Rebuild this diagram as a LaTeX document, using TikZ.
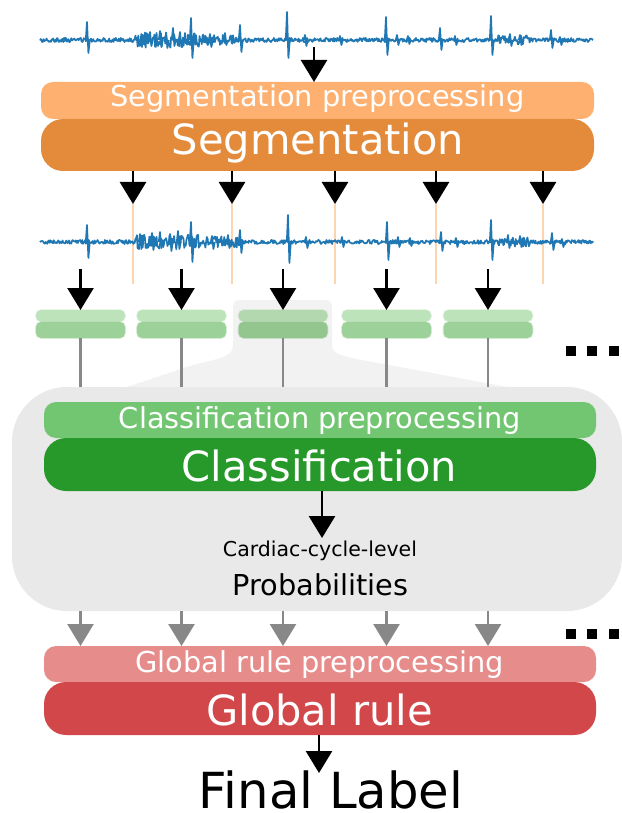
\documentclass[tikz,border=0pt]{standalone}
\usepackage{fontspec}
\setmainfont{DejaVu Sans}
\usetikzlibrary{arrows.meta}
\definecolor{segpreC}{HTML}{FDB06F}
\definecolor{segmainC}{HTML}{E48A3B}
\definecolor{clpreC}{HTML}{72C672}
\definecolor{clmainC}{HTML}{26992A}
\definecolor{glpreC}{HTML}{E68D8C}
\definecolor{glmainC}{HTML}{D1474A}
\definecolor{bigGray}{HTML}{E9E9E9}
\definecolor{funGray}{HTML}{F2F2F2}
\definecolor{arrGray}{HTML}{888888}
\definecolor{orLight}{HTML}{FDD4B0}
\definecolor{sigBlue}{HTML}{1F77B4}
\definecolor{gTop}{HTML}{BDE3BB}
\definecolor{gBot}{HTML}{9DD19A}
\definecolor{gTopD}{HTML}{B3D8B0}
\definecolor{gBotD}{HTML}{93C68F}
\tikzset{
  boxn/.style={inner sep=0pt, outer sep=0pt, draw=none},
  lbl/.style={anchor=base, inner sep=0pt, outer sep=0pt, text=white},
  arr/.style={line width=2.6pt, -{Triangle[width=26pt,length=22pt]}},
  garr/.style={arr, draw=arrGray},
  sig/.style={draw=sigBlue, line width=1.7pt, line join=round},
  gline/.style={draw=arrGray, line width=2.4pt},
  oline/.style={draw=orLight, line width=2pt},
}
\newcommand\fsz[1]{\fontsize{#1pt}{#1pt}\selectfont}
\newcommand\sigline[2]{%
  \pgfmathsetseed{#2}%
  \draw[sig] plot[domain=40:593, samples=760] (\x, {#1 + (2.1 + 5.5*(\x>135)*(\x<200) + 3.5*(\x>=200)*(\x<240) + 2.5*(\x>498)*(\x<530))*rand});
}
\newcommand\greenbox[4]{%
  \fill[#3, rounded corners=5pt] (#2-44.5,310) rectangle (#2+44.5,321.5);
  \draw[#3, line width=1.6pt, opacity=0.35, rounded corners=5pt] (#2-44.5,310) rectangle (#2+44.5,321.5);
  \fill[#4, rounded corners=5pt] (#2-44.5,322) rectangle (#2+44.5,338);
  \draw[#4, line width=1.6pt, opacity=0.35, rounded corners=5pt] (#2-44.5,322) rectangle (#2+44.5,338);
  \node[boxn, minimum width=89pt, minimum height=28pt] (#1) at (#2,324) {};
}
\begin{document}
\begin{tikzpicture}[x=1pt,y=-1pt]
\useasboundingbox (0,0) rectangle (621,813);
\fill[white] (0,0) rectangle (621,813);

% ---- top signal
\sigline{40}{7}
\foreach \xo/\u/\d in {87/18/13,150/8/6,160/9/7,166/6/8,173/12/6,180/8/7,191/22/18,210/6/7,225/7/5,240/15/12,287/28/18,305/5/6,340/4/5,386/23/15,397/5/5,408/4/4,440/12/10,455/4/5,491/24/15,510/6/6,520/5/5,551/10/8,560/3/5}
  \draw[sig] (\xo-1.2,40) -- (\xo,40-\u) -- (\xo+1.4,40+\d) -- (\xo+2.8,40);

% ---- segmentation boxes
\node[boxn, fill=segpreC, rounded corners=12pt, minimum width=553pt, minimum height=37pt] (segpre) at (317.5,100.5) {};
\node[boxn, fill=segmainC, rounded corners=22pt, minimum width=553pt, minimum height=52pt] (segmain) at (317.5,145) {};
\node[lbl, font=\fsz{28.8}] (segpreT) at (317.5,107) {Segmentation preprocessing};
\node[lbl, font=\fsz{41.6}] (segmainT) at (318,155) {Segmentation};

\coordinate (s0) at (314,47);
\draw[arr] (s0) -- (s0 |- segpre.north);

% ---- cut arrows and orange lines
\foreach \i/\xx in {1/133,2/232,3/335,4/436,5/543}{
  \coordinate (cut\i) at (\xx,204);
  \coordinate (cute\i) at (\xx,284);
  \draw[oline] (cut\i) -- (cute\i);
  \draw[arr] (cut\i |- segmain.south) -- (cut\i);
}

% ---- second signal
\sigline{242}{11}
\foreach \xo/\u/\d in {87/17/16,140/8/7,152/9/8,160/10/6,170/8/9,178/11/7,191/20/20,212/6/7,228/7/6,240/12/11,288/27/21,306/5/6,342/5/5,387/20/18,398/5/5,410/4/4,441/10/9,456/4/5,491/22/18,508/7/6,520/6/5,552/9/8,562/3/5}
  \draw[sig] (\xo-1.2,242) -- (\xo,242-\u) -- (\xo+1.4,242+\d) -- (\xo+2.8,242);

% ---- funnel
\fill[funGray] (100,400) -- (127,387) -- (190,366) .. controls (215,359) and (233,358) .. (233,346)
  -- (233,314) .. controls (233,300) .. (247,300) -- (318,300) .. controls (332,300) .. (332,314)
  -- (332,346) .. controls (332,356) and (350,358) .. (400,367) -- (507,387) -- (530,400) -- cycle;

% ---- green segment boxes
\greenbox{g1}{80.5}{gTop}{gBot}
\greenbox{g2}{181.5}{gTop}{gBot}
\greenbox{g3}{283}{gTopD}{gBotD}
\greenbox{g4}{386.5}{gTop}{gBot}
\greenbox{g5}{488}{gTop}{gBot}

% ---- big gray box
\node[boxn, fill=bigGray, rounded corners=55pt, minimum width=610pt, minimum height=224pt] (gbox) at (317,499) {};

\foreach \i in {1,...,5}{
  \coordinate (a\i) at (g\i.north |- 0,269);
  \draw[arr] (a\i) -- (g\i.north);
  \draw[gline] (g\i.south) -- (g\i.south |- gbox.north);
}

% ---- classification
\node[boxn, fill=clpreC, rounded corners=12pt, minimum width=552pt, minimum height=36pt] (clpre) at (320,420) {};
\node[boxn, fill=clmainC, rounded corners=22pt, minimum width=552pt, minimum height=53pt] (clmain) at (320,464.5) {};
\node[lbl, font=\fsz{28.8}] (clpreT) at (320,428) {Classification preprocessing};
\node[lbl, font=\fsz{41.6}] (clmainT) at (319.5,481) {Classification};
\coordinate (ccTip) at (322,538);
\draw[arr] (ccTip |- clmain.south) -- (ccTip);
\node[lbl, text=black, font=\fsz{20.5}] (cardT) at (320,556) {Cardiac-cycle-level};
\node[lbl, text=black, font=\fsz{28.8}] (probT) at (320.5,595) {Probabilities};

% ---- global rule
\node[boxn, fill=glpreC, rounded corners=12pt, minimum width=552pt, minimum height=36pt] (glpre) at (320,664) {};
\node[boxn, fill=glmainC, rounded corners=22pt, minimum width=552pt, minimum height=53pt] (glmain) at (320,708.5) {};
\node[lbl, font=\fsz{28.8}] (glpreT) at (319.5,672) {Global rule preprocessing};
\node[lbl, font=\fsz{41.6}] (glmainT) at (319.5,725) {Global rule};

\foreach \i in {1,...,5}{
  \draw[garr] (g\i.south |- gbox.south) -- (g\i.south |- glpre.north);
}

% ---- dots
\foreach \yy in {346,629}{
  \fill[black] (566,\yy) rectangle (576,\yy+10);
  \fill[black] (587,\yy) rectangle (597,\yy+10);
  \fill[black] (609,\yy) rectangle (619,\yy+10);
}

% ---- final
\node[lbl, text=black, text depth=0pt, font=\fsz{49.7}] (finalT) at (331,808) {Final Label};
\coordinate (flTip) at (319,773);
\draw[arr] (flTip |- glmain.south) -- (flTip);
\end{tikzpicture}
\end{document}
